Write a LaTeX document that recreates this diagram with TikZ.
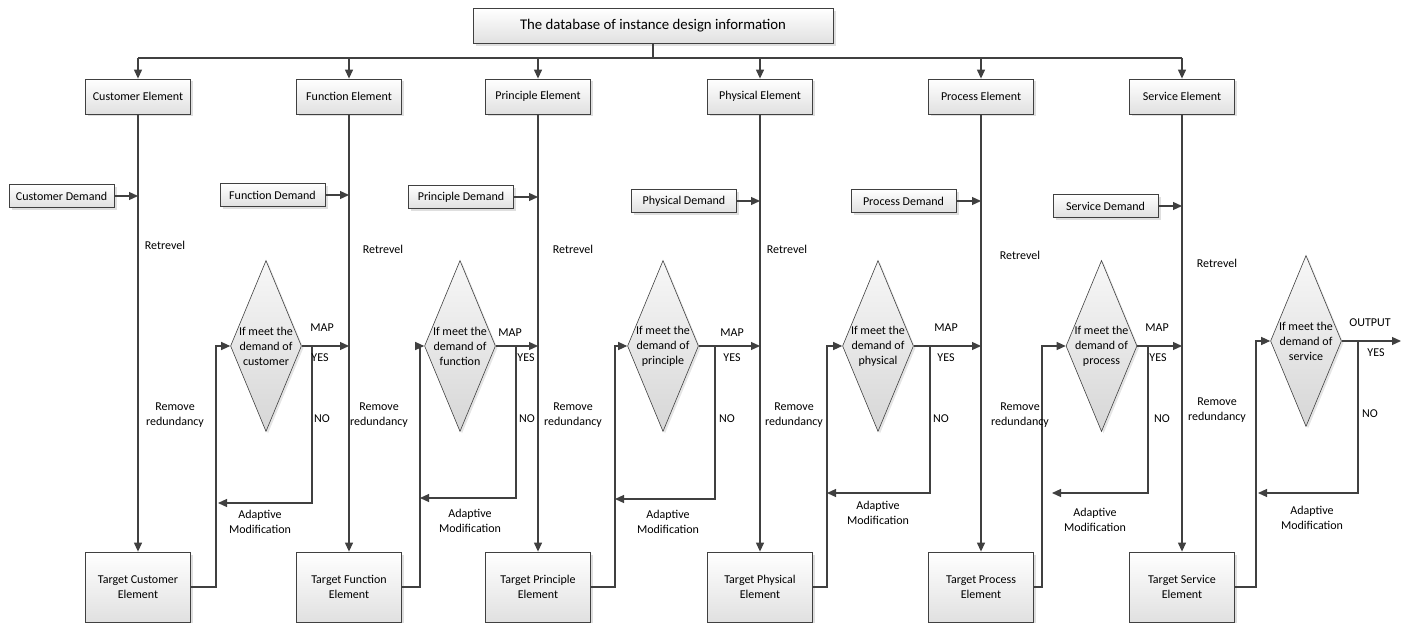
\documentclass[tikz,border=0pt]{standalone}
\usepackage{fontspec}
\setmainfont{Carlito}
\usepackage{tikz}
\usetikzlibrary{arrows.meta, shapes.geometric, shadows}

\begin{document}
\begin{tikzpicture}[x=1pt, y=-1pt,
  font=\fontsize{12}{15}\selectfont,
  line/.style={draw=black!75, line width=1.2pt},
  arr/.style={line, -{Triangle[length=9pt, width=8pt]}},
  elem/.style={draw=black!75, line width=0.8pt, top color=white, bottom color=black!12,
    drop shadow={shadow xshift=2.5pt, shadow yshift=-2.5pt, fill=black!25},
    minimum width=105, minimum height=35, inner sep=1pt, align=center},
  target/.style={elem, minimum height=70},
  demand/.style={elem, minimum height=23},
  decision/.style={diamond, draw=black!75, line width=0.6pt, top color=black!3, bottom color=black!16,
    drop shadow={shadow xshift=2pt, shadow yshift=-2pt, fill=black!20},
    minimum width=71, minimum height=171, inner sep=0pt},
  lbl/.style={inner sep=0pt, align=center}]
\useasboundingbox (0,0) rectangle (1403,623);

\node[elem, minimum width=360] (db) at (653,26) {\fontsize{14.8}{17}\selectfont The database of instance design information};
\coordinate (bus) at (653,58);

\node[elem] (ce) at (138,96.5) {Customer Element};
\node[elem] (fe) at (349,96.5) {Function Element};
\node[elem] (pe) at (538,96.5) {Principle Element};
\node[elem] (phe) at (760,96.5) {Physical Element};
\node[elem] (pre) at (981,96.5) {Process Element};
\node[elem] (se) at (1182,96.5) {Service Element};

\draw[line] (db) -- (bus);
\draw[line] (ce |- bus) -- (se |- bus);
\draw[arr] (ce |- bus) -- (ce);
\draw[arr] (fe |- bus) -- (fe);
\draw[arr] (pe |- bus) -- (pe);
\draw[arr] (phe |- bus) -- (phe);
\draw[arr] (pre |- bus) -- (pre);
\draw[arr] (se |- bus) -- (se);

\node[target] (tce) at (138,587) {Target Customer\\Element};
\node[target] (tfe) at (349,587) {Target Function\\Element};
\node[target] (tpe) at (538,587) {Target Principle\\Element};
\node[target] (tphe) at (760,587) {Target Physical\\Element};
\node[target] (tpre) at (981,587) {Target Process\\Element};
\node[target] (tse) at (1182,587) {Target Service\\Element};

\draw[arr] (ce) -- (tce);
\draw[arr] (fe) -- (tfe);
\draw[arr] (pe) -- (tpe);
\draw[arr] (phe) -- (tphe);
\draw[arr] (pre) -- (tpre);
\draw[arr] (se) -- (tse);

\node[demand] (cd) at (61.5,196) {Customer Demand};
\node[demand] (fd) at (272.5,195) {Function Demand};
\node[demand] (pd) at (461,197) {Principle Demand};
\node[demand] (phd) at (684,201) {Physical Demand};
\node[demand] (prd) at (903.5,201) {Process Demand};
\node[demand] (sd) at (1105.5,206) {Service Demand};

\draw[arr] (cd) -- (cd -| ce);
\draw[arr] (fd) -- (fd -| fe);
\draw[arr] (pd) -- (pd -| pe);
\draw[arr] (phd) -- (phd -| phe);
\draw[arr] (prd) -- (prd -| pre);
\draw[arr] (sd) -- (sd -| se);

\node[decision] (d1) at (266,346) {};
\node[decision] (d2) at (460,346) {};
\node[decision] (d3) at (663,346) {};
\node[decision] (d4) at (878,346) {};
\node[decision] (d5) at (1101.5,346) {};
\node[decision] (d6) at (1306,341) {};
\node[lbl] (q1) at (d1) {If meet the\\demand of\\customer};
\node[lbl] (q2) at (d2) {If meet the\\demand of\\function};
\node[lbl] (q3) at (d3) {If meet the\\demand of\\principle};
\node[lbl] (q4) at (d4) {If meet the\\demand of\\physical};
\node[lbl] (q5) at (d5) {If meet the\\demand of\\process};
\node[lbl] (q6) at (d6) {If meet the\\demand of\\service};

\draw[arr] (d1) -- (d1 -| fe);
\draw[arr] (d2) -- (d2 -| pe);
\draw[arr] (d3) -- (d3 -| phe);
\draw[arr] (d4) -- (d4 -| pre);
\draw[arr] (d5) -- (d5 -| se);
\coordinate (out) at (1401,341);
\draw[arr] (d6) -- (out);

\coordinate (n1) at (312,503);
\coordinate (n2) at (516,498);
\coordinate (n3) at (715,499);
\coordinate (n4) at (930,493);
\coordinate (n5) at (1148,493);
\coordinate (n6) at (1358,493);
\coordinate (a1) at (218,503);
\coordinate (a2) at (420,498);
\coordinate (a3) at (615,499);
\coordinate (a4) at (827,493);
\coordinate (a5) at (1052,493);
\coordinate (a6) at (1258,493);
\draw[arr] (d1 -| n1) -- (n1) -- (a1);
\draw[arr] (d2 -| n2) -- (n2) -- (a2);
\draw[arr] (d3 -| n3) -- (n3) -- (a3);
\draw[arr] (d4 -| n4) -- (n4) -- (a4);
\draw[arr] (d5 -| n5) -- (n5) -- (a5);
\draw[arr] (d6 -| n6) -- (n6) -- (a6);

\coordinate (f1) at (216,346);
\coordinate (f2) at (420,346);
\coordinate (f3) at (615,346);
\coordinate (f4) at (827,346);
\coordinate (f5) at (1042,346);
\coordinate (f6) at (1256,341);
\draw[arr] (tce.east) -| (f1) -- (d1);
\draw[arr] (tfe.east) -| (f2) -- (d2);
\draw[arr] (tpe.east) -| (f3) -- (d3);
\draw[arr] (tphe.east) -| (f4) -- (d4);
\draw[arr] (tpre.east) -| (f5) -- (d5);
\draw[arr] (tse.east) -| (f6) -- (d6);

\node[lbl] (ret1) at (165,245) {Retrevel};
\node[lbl] (ret2) at (383,249) {Retrevel};
\node[lbl] (ret3) at (573,249) {Retrevel};
\node[lbl] (ret4) at (787,249) {Retrevel};
\node[lbl] (ret5) at (1020,255) {Retrevel};
\node[lbl] (ret6) at (1217,263) {Retrevel};

\node[lbl] (rr1) at (175,415) {Remove\\redundancy};
\node[lbl] (rr2) at (379,415) {Remove\\redundancy};
\node[lbl] (rr3) at (573,415) {Remove\\redundancy};
\node[lbl] (rr4) at (794,415) {Remove\\redundancy};
\node[lbl] (rr5) at (1020,415) {Remove\\redundancy};
\node[lbl] (rr6) at (1217,410) {Remove\\redundancy};

\node[lbl] (map1) at (322,328) {MAP};
\node[lbl] (map2) at (510,333) {MAP};
\node[lbl] (map3) at (732,333) {MAP};
\node[lbl] (map4) at (946,328) {MAP};
\node[lbl] (map5) at (1157,328) {MAP};
\node[lbl] (out6) at (1370,323) {OUTPUT};

\node[lbl] (yes1) at (320,358) {YES};
\node[lbl] (yes2) at (526,358) {YES};
\node[lbl] (yes3) at (732,358) {YES};
\node[lbl] (yes4) at (946,358) {YES};
\node[lbl] (yes5) at (1158,358) {YES};
\node[lbl] (yes6) at (1376,353) {YES};

\node[lbl] (no1) at (322,419) {NO};
\node[lbl] (no2) at (527,419) {NO};
\node[lbl] (no3) at (727,419) {NO};
\node[lbl] (no4) at (941,419) {NO};
\node[lbl] (no5) at (1162,419) {NO};
\node[lbl] (no6) at (1370,414) {NO};

\node[lbl] (am1) at (260,522) {Adaptive\\Modification};
\node[lbl] (am2) at (470,521) {Adaptive\\Modification};
\node[lbl] (am3) at (668,522) {Adaptive\\Modification};
\node[lbl] (am4) at (878,513) {Adaptive\\Modification};
\node[lbl] (am5) at (1095,520) {Adaptive\\Modification};
\node[lbl] (am6) at (1312,518) {Adaptive\\Modification};
\end{tikzpicture}
\end{document}
